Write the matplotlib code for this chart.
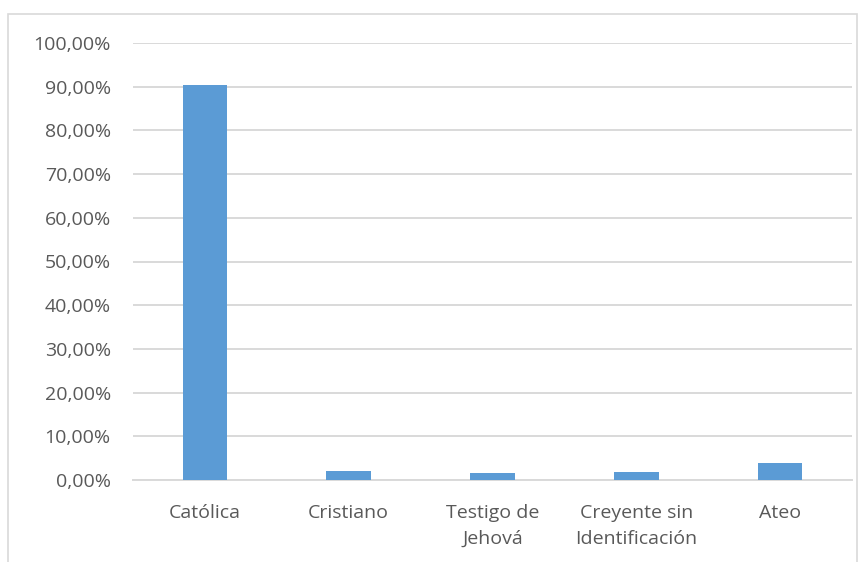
import matplotlib.pyplot as plt
from matplotlib.patches import Rectangle

# Datos
categorias = ['Católica', 'Cristiano', 'Testigo de\nJehová', 'Creyente sin\nIdentificación', 'Ateo']
porcentajes = [90.4, 2.15, 1.55, 1.77, 4.0]
ticks_y = [0, 10, 20, 30, 40, 50, 60, 70, 80, 90, 100]
etiquetas_y = ['%d,00%%' % v for v in ticks_y]

plt.rcParams['font.family'] = ['Open Sans', 'DejaVu Sans']

fig = plt.figure(figsize=(8.65, 5.62), dpi=100)
ax = fig.add_axes([133 / 865, 1 - 480 / 562, 719 / 865, 437 / 562])

x = range(len(categorias))
ax.bar(x, porcentajes, width=0.31, color='#5b9bd5', zorder=3)

ax.set_ylim(0, 100)
ax.set_xlim(-0.5, len(categorias) - 0.5)
ax.set_yticks(ticks_y)
ax.set_yticklabels(etiquetas_y)
ax.set_xticks(list(x))
ax.set_xticklabels(categorias, linespacing=1.6)
ax.tick_params(length=0, labelsize=14, colors='#595959')
ax.tick_params(axis='x', pad=17)
ax.tick_params(axis='y', pad=16)
ax.grid(axis='y', color='#d9d9d9', linewidth=1.4, zorder=0)
for s in ['top', 'right', 'left']:
    ax.spines[s].set_visible(False)
ax.spines['bottom'].set_color('#d9d9d9')
ax.spines['bottom'].set_linewidth(1.4)

# borde del gráfico
fig.patches.append(Rectangle((8 / 865, -0.01), 849 / 865, 1 - 14 / 562 + 0.01,
                             transform=fig.transFigure, fill=False,
                             edgecolor='#d9d9d9', linewidth=1.2))

fig.savefig('out.png', dpi=100)
